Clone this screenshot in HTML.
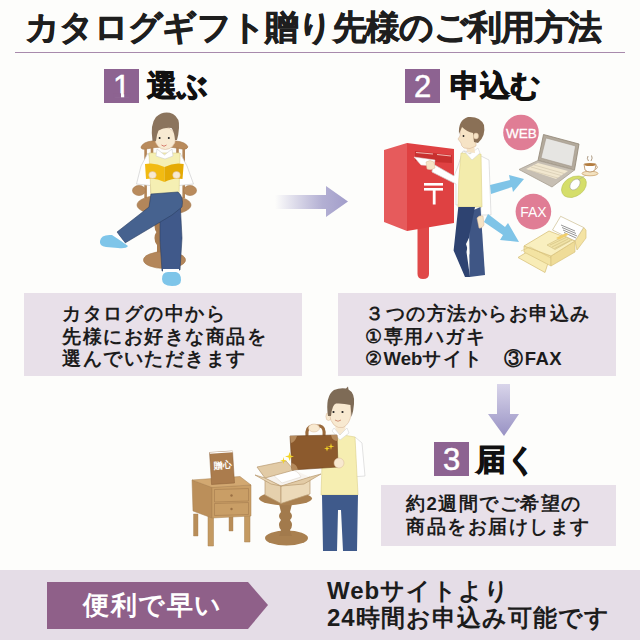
<!DOCTYPE html>
<html><head><meta charset="utf-8">
<style>
html,body{margin:0;padding:0;}
body{width:640px;height:640px;position:relative;overflow:hidden;background:#fdfdfb;font-family:"Liberation Sans",sans-serif;color:#1a1a1a;}
.a{position:absolute;}
.title{left:25px;top:8px;font-family:"Liberation Serif",serif;font-weight:bold;font-size:34px;line-height:40px;white-space:nowrap;color:#1e1e1e;letter-spacing:-0.7px;-webkit-text-stroke:0.7px #1e1e1e;}
.rule{left:15px;top:52px;width:610px;height:1px;background:#a88aac;}
.num{background:#8d6391;color:#fff;font-size:31px;line-height:35px;text-align:center;width:35px;height:34px;-webkit-text-stroke:0.5px #fff;}
.hd{font-size:30px;font-weight:bold;line-height:34px;white-space:nowrap;color:#111;-webkit-text-stroke:1px #111;}
.box{background:#e8e0e9;}
.bt{font-size:18.5px;line-height:22.5px;font-weight:bold;white-space:nowrap;color:#1c1c1c;letter-spacing:1.5px;}
.band{left:0;top:570px;width:640px;height:70px;background:#e5dde7;}
</style></head><body>
<div class="a title">カタログギフト贈り先様のご利用方法</div>
<div class="a rule"></div>

<div class="a num" style="left:104px;top:69px;">1</div>
<div class="a hd" style="left:147px;top:69px;">選ぶ</div>
<div class="a num" style="left:405px;top:69px;">2</div>
<div class="a hd" style="left:450px;top:69px;">申込む</div>
<div class="a num" style="left:434px;top:442px;">3</div>
<div class="a hd" style="left:476px;top:443px;">届く</div>

<div class="a box" style="left:24px;top:293px;width:278px;height:83px;"></div>
<div class="a bt" style="left:62px;top:303px;">カタログの中から<br>先様にお好きな商品を<br>選んでいただきます</div>

<div class="a box" style="left:338px;top:293px;width:278px;height:83px;"></div>
<div class="a bt" style="left:365px;top:303px;">３つの方法からお申込み<br>①専用ハガキ<br>②<span style="letter-spacing:0">Web</span>サイト　③<span style="letter-spacing:0.5px">FAX</span></div>

<div class="a box" style="left:381px;top:485px;width:235px;height:61px;"></div>
<div class="a bt" style="left:406px;top:493px;">約2週間でご希望の<br>商品をお届けします</div>

<div class="a band"></div>
<svg class="a" style="left:0;top:0" width="640" height="640" viewBox="0 0 640 640">
  <defs>
    <linearGradient id="ga" x1="0" x2="1" y1="0" y2="0">
      <stop offset="0" stop-color="#a19dcb" stop-opacity="0"/>
      <stop offset="0.65" stop-color="#a6a2cc" stop-opacity="0.85"/>
      <stop offset="1" stop-color="#a29dca"/>
    </linearGradient>
    <linearGradient id="gd" x1="0" x2="0" y1="0" y2="1">
      <stop offset="0" stop-color="#d9d5ea"/>
      <stop offset="1" stop-color="#9892c4"/>
    </linearGradient>
  </defs>
  <rect x="113.5" y="93.3" width="7.5" height="4.6" fill="#8d6391"/><rect x="124.2" y="93.3" width="6.3" height="4.6" fill="#8d6391"/>
<!-- illustration 1: man reading in chair -->
<g id="ill1">
  <!-- chair back -->
  <path d="M141 147 Q143 142 152 141 Q164 139 176 141 Q186 142 188 147 Q187 150 182 149 Q164 145 146 149 Q141 150 141 147 Z" fill="#b98b5c" stroke="#a37548" stroke-width="0.6"/>
  <path d="M145.6 148 V198 M152 147 V198 M177.5 147 V198 M183.7 148 V198" stroke="#b48657" stroke-width="2.6"/>
  <!-- seat ring -->
  <ellipse cx="164" cy="205" rx="27" ry="10" fill="#b3865a" stroke="#a37548" stroke-width="0.6"/>
  <!-- arms -->
  <ellipse cx="139" cy="190.5" rx="6.5" ry="5" fill="#b98b5c" stroke="#a37548" stroke-width="0.6"/>
  <ellipse cx="190" cy="190.5" rx="6.5" ry="5" fill="#b98b5c" stroke="#a37548" stroke-width="0.6"/>
  <!-- pedestal -->
  <path d="M157 214 H165 V254 H157 Z" fill="#a97c50"/>
  <path d="M158 220 Q154 226 158 232 Q154 238 158 244 M164 220 Q168 226 164 232 Q168 238 164 244" stroke="#a97c50" stroke-width="3" fill="none"/>
  <ellipse cx="164.5" cy="260" rx="21" ry="8.5" fill="#b3865a" stroke="#a37548" stroke-width="0.6"/>
  <!-- sleeves -->
  <path d="M148 153 L141 166 L136.5 184 L150 185.5 L156 177 L152 162 Z" fill="#fff" stroke="#cfcfcf" stroke-width="0.7"/>
  <path d="M180 153 L187 166 L193.5 184 L179 185.5 L173 177 L177 162 Z" fill="#fff" stroke="#cfcfcf" stroke-width="0.7"/>
  <!-- vest -->
  <path d="M149 153 L180 153 L179 196 L151 196 Z" fill="#f5efb3" stroke="#dcd08a" stroke-width="0.6"/>
  <!-- collar -->
  <path d="M157 149 L164.5 155 L172 149 L173 156 L165 159 L156 156 Z" fill="#fff" stroke="#cfcfcf" stroke-width="0.6"/>
  <!-- face -->
  <ellipse cx="165.3" cy="138.5" rx="10.3" ry="11" fill="#f8ead2" stroke="#d9b99a" stroke-width="0.6"/>
  <!-- hair -->
  <path d="M152.5 141 Q150 124 156 117 Q164 110 173 114 Q180 118 179 128 Q178.5 135 177 140 L175 140 Q174.5 132 171.5 128 Q164 127 158.5 130.5 Q156.5 135 156 141 Z" fill="#8b745d"/>
  <circle cx="159.6" cy="138" r="1" fill="#222"/>
  <circle cx="168.8" cy="138" r="1" fill="#222"/>
  <path d="M161.5 145 Q164 147.5 166.5 145" stroke="#d77b6c" stroke-width="1" fill="none"/>
  <!-- book -->
  <path d="M145 164 Q155 162 164.5 167 L164.5 182 Q155 177 146 179 Z" fill="#f2bb12"/>
  <path d="M164.5 167 Q174 162 183.7 164 L182.5 179 Q174 177 164.5 182 Z" fill="#e5aa04"/>
  <ellipse cx="152.5" cy="175" rx="3.8" ry="3.5" fill="#f8ead2" stroke="#d9b99a" stroke-width="0.5"/>
  <ellipse cx="176.5" cy="175" rx="3.8" ry="3.5" fill="#f8ead2" stroke="#d9b99a" stroke-width="0.5"/>
  <!-- pants: standing leg -->
  <path d="M160 206 L180 200 L182 238 L180 270 L162 271 L160 240 Z" fill="#40598a" stroke="#2c3f63" stroke-width="0.6"/>
  <!-- crossing leg / lap -->
  <path d="M151 194 L178 192 Q184 197 182 207 L172 215 L125 243 L117 232 L149 207 Z" fill="#46628f" stroke="#2c3f63" stroke-width="0.6"/>
  <!-- socks -->
  <path d="M116 232 L125 243 L119 246 L111 238 Z" fill="#fff"/>
  <rect x="163" y="269" width="16" height="5" fill="#fff"/>
  <!-- slippers -->
  <path d="M100 241 Q101 234 112 235 L121 241 L128 246 Q126 249 118 248 L106 247 Q99 246 100 241 Z" fill="#7ec5e9"/>
  <path d="M162 279 Q162 272 168 272 L176 272 Q181 273 181 280 Q181 286 172 286 Q162 286 162 279 Z" fill="#7ec5e9"/>
</g>
<!-- illustration 2: mailbox, man, laptop, fax -->
<g id="ill2">
  <!-- post -->
  <path d="M417.5 226 H429 V274 Q429 279 423 279 Q417.5 279 417.5 274 Z" fill="#e04848"/>
  <!-- mailbox -->
  <path d="M384 150 L407 143 L407 231 L384 222 Z" fill="#e65b5c"/>
  <path d="M407 143 L454 149 L454 223 L407 231 Z" fill="#df4142"/>
  <path d="M415 151 L452 155 L452 163 L415 161 Z" fill="#c8302f"/>
  <path d="M416 152.5 L433 154 M437 154.5 L451 156" stroke="#f0b5b0" stroke-width="1.2"/>
  <!-- 〒 -->
  <rect x="424" y="183" width="19" height="2.6" fill="#fff"/>
  <rect x="424" y="188" width="19" height="2.6" fill="#fff"/>
  <rect x="432.8" y="190" width="2.8" height="14.5" fill="#fff"/>
  <!-- letter -->
  <path d="M414 157 L435 160 L434 166 L421 165 Z" fill="#fff" stroke="#ddd" stroke-width="0.5"/>
  <!-- sleeve arm -->
  <path d="M433 164 L454 176 L458 166 L463 151 L471 152 L463 205 L456 205 L456 184 L432 172 Z" fill="#fff" stroke="#d0d0d0" stroke-width="0.7"/>
  <path d="M426 162 Q430 159 434 162 L435 168 Q431 171 427 169 Z" fill="#f6e3c5" stroke="#d9b99a" stroke-width="0.5"/>
  <!-- man 2 -->
  <path d="M479 155 L489 160 L491 215 L481 215 Z" fill="#fff" stroke="#d5d5d5" stroke-width="0.7"/>
  <path d="M461 153 L481 154 L482 207 L458 207 Q458 180 461 153 Z" fill="#f3ecac" stroke="#dcd08a" stroke-width="0.6"/>
  <path d="M464 151 L472 160 L480 153 L478 148 L470 154 Z" fill="#fff" stroke="#d5d5d5" stroke-width="0.6"/>
  <path d="M466 143 L474 143 L475 153 L467 152 Z" fill="#f6e3c5"/>
  <!-- face profile -->
  <path d="M461 126 Q471 124 476 132 L476 146 Q470 150 464 148 Q461 146 461 143 L458 139 L460 136 Z" fill="#f6e3c5" stroke="#d9b99a" stroke-width="0.6"/>
  <path d="M459 134 Q458 120 468 117 Q480 116 484 125 Q486 136 478 143 L474 142 L473 133 Q467 132 462 127 Z" fill="#8a7056"/>
  <ellipse cx="476" cy="136" rx="2.5" ry="3" fill="#f6e3c5" stroke="#d9b99a" stroke-width="0.5"/>
  <circle cx="463.5" cy="136" r="0.9" fill="#222"/>
  <!-- pants -->
  <path d="M469 212 L480.5 207 L485 275 L469.5 277 Z" fill="#3f5685"/>
  <path d="M458.3 207 L475 207 L470 232 L466.5 252 L470 277 L465 277 L453.6 250.5 Z" fill="#2e4371"/>
  <path d="M466 244 L469 238 L469.5 255 Z" fill="#fdfdfb"/>
  <path d="M477 218 Q479 215 483 216 L484 225 Q482 229 479 228 Z" fill="#f6e3c5" stroke="#d9b99a" stroke-width="0.5"/>
  <!-- blue arrows -->
  <path d="M490 185 L510 180 L509 175 L524 179 L513 192 L512 187 L491 194 Z" fill="#7fc4e7"/>
  <path d="M488 214 L505 227 L508 223 L519 242 L500 240 L503 235 L484 222 Z" fill="#7fc4e7"/>
  <!-- pink circles -->
  <circle cx="521" cy="132.5" r="17.8" fill="#e07d95"/>
  <circle cx="533.4" cy="211.6" r="17.8" fill="#e07d95"/>
  <text x="521.5" y="138" font-family="Liberation Sans, sans-serif" font-size="13.5" fill="#fff" text-anchor="middle" stroke="#fff" stroke-width="0.3">WEB</text>
  <text x="533.4" y="217" font-family="Liberation Sans, sans-serif" font-size="14" fill="#fff" text-anchor="middle">FAX</text>
  <!-- laptop -->
  <path d="M543.5 134.5 L579 144 L574.5 170 L538 160.5 Z" fill="#b3aa9c" stroke="#8f8474" stroke-width="0.8"/>
  <path d="M546 138 L575.5 146 L572 166.5 L541 158 Z" fill="#e6e5e2" stroke="#9a8f80" stroke-width="0.5"/>
  <path d="M538 160.5 L574.5 170 L552 187 L519 169.5 Z" fill="#c7bfb3" stroke="#a79e90" stroke-width="0.8"/>
  <path d="M538 163 L568 171 L556 179 L526 169 Z" fill="#f1e7cf"/>
  <path d="M531 167 L561 175.5 M534 165 L564 173.5 M529 170 L558 178" stroke="#c9bda3" stroke-width="0.5"/>
  <!-- mouse pad -->
  <path d="M579 176 Q588 177 586 186 Q583 195 572 197.5 Q562 198 561.5 190 Q562 183 568 179 Q573 175.5 579 176 Z" fill="#d5de6a" stroke="#b6bf4f" stroke-width="0.6"/>
  <ellipse cx="575" cy="184.5" rx="4.2" ry="6.2" transform="rotate(40 575 184.5)" fill="#fff" stroke="#a8a898" stroke-width="0.6"/>
  <path d="M578 180 Q584 176 588 174" stroke="#a8a898" stroke-width="0.6" fill="none"/>
  <!-- cup -->
  <ellipse cx="590" cy="173.5" rx="8" ry="2.3" fill="#f3e2c0" stroke="#c59a5f" stroke-width="0.7"/>
  <path d="M584 164 L596 164 L595 170 Q590 174 585 170 Z" fill="#fff" stroke="#a97b47" stroke-width="0.7"/>
  <path d="M596 165.5 Q599 167 595.5 169.5" stroke="#a97b47" stroke-width="0.7" fill="none"/>
  <ellipse cx="590" cy="164.6" rx="5.4" ry="1.5" fill="#b47d3f"/>
  <path d="M588 156 Q586.5 158.5 588.5 161 M591.5 155.5 Q593 158 591 161" stroke="#8c7050" stroke-width="0.7" fill="none"/>
  <!-- fax machine -->
  <path d="M518 257.5 L527 252 L548 263 L545 272.5 Z" fill="#f8ecb6" stroke="#d9c37e" stroke-width="0.8"/>
  <path d="M575 241 L583.7 227.5 L586 230 L586 238 L577 250 Z" fill="#f4e3a3" stroke="#d9c37e" stroke-width="0.7"/>
  <path d="M552.5 230 L560.6 216.3 L583.7 227.5 L575 241 Z" fill="#fff" stroke="#cdbf91" stroke-width="0.7"/>
  <path d="M561 225 L575 231 M562 227.5 L576 233.5 M563 230 L577 236 M564 232.5 L576 238" stroke="#8a8a8a" stroke-width="0.9"/>
  <path d="M524 252 L524 246 L551 256 L551 266 Z" fill="#f3e3a2" stroke="#d9c37e" stroke-width="0.7"/>
  <path d="M551 256 L575 241 L575 252 L551 266 Z" fill="#efdc98" stroke="#d9c37e" stroke-width="0.7"/>
  <path d="M524 246 L549 231 L575 241 L551 256 Z" fill="#f9efbf" stroke="#d9c37e" stroke-width="0.8"/>
  <path d="M547 245 L564 236 L572 240 L555 249.5 Z" fill="#f0e2a6" stroke="#c9b678" stroke-width="0.5"/>
  <path d="M550 245 L566 237.5 M552 247 L568 239 M554.5 248.5 L570 240.5" stroke="#c9b678" stroke-width="0.5"/>
  <path d="M556 238 L566 233 L569 234.5 L559 239.5 Z" fill="#f1cf6e"/>
  <path d="M521 251 L530 247 L551 258" fill="none" stroke="#d9c37e" stroke-width="0.6"/>
</g>
<!-- illustration 3: nightstand, box, man with suitcase -->
<g id="ill3">
  <!-- nightstand legs -->
  <path d="M193.5 514 H198 V536 H193.5 Z M229 514 H233 V531 H229 Z" fill="#b88d58" stroke="#a98050" stroke-width="0.4"/>
  <path d="M208 514 H213.5 V546 H208 Z M244.5 514 H250 V542 H244.5 Z" fill="#c49a62" stroke="#a98050" stroke-width="0.5"/>
  <!-- body -->
  <path d="M192 480 L212 487 L212 518 L193 511 Z" fill="#bb8f5a" stroke="#a98050" stroke-width="0.5"/>
  <path d="M212 487 L251 485 L251 516 L212 518 Z" fill="#c99e66" stroke="#a98050" stroke-width="0.5"/>
  <path d="M192 480 L240 476.5 L251 485 L212 487.5 Z" fill="#d2a871" stroke="#a98050" stroke-width="0.5"/>
  <path d="M214.5 489.5 L248.5 488.5 L248.5 501 L214.5 502 Z M214.5 503.5 L248.5 502.5 L248.5 514.5 L214.5 515.5 Z" fill="none" stroke="#a98050" stroke-width="0.7"/>
  <circle cx="231.5" cy="495.5" r="1.2" fill="#9a7044"/>
  <circle cx="231.5" cy="509" r="1.2" fill="#9a7044"/>
  <!-- catalog -->
  <path d="M209.5 452.5 L232.5 451 L234.5 483 L211.5 484.5 Z" fill="#ab7c4d" stroke="#8a5f36" stroke-width="0.5"/>
  <path d="M209.5 452.5 L232.5 451 L233 452.3 L210 453.8 Z" fill="#fff"/>
  <text x="222.5" y="468" font-family="Liberation Sans, sans-serif" font-size="9" font-weight="bold" fill="#fff" text-anchor="middle" transform="rotate(-4 222 466)">贈心</text>
  <!-- pedestal table -->
  <ellipse cx="286.5" cy="538" rx="21.5" ry="7.5" fill="#a98050"/>
  <path d="M279 504 H292 L290 512 Q294 516 290 520 Q294 525 290 530 L292 536 H279 L281 530 Q277 525 281 520 Q277 516 281 512 Z" fill="#a27a4c"/>
  <ellipse cx="285.5" cy="498.5" rx="26.5" ry="6.8" fill="#a98050"/>
  <!-- cardboard box -->
  <path d="M265 478 L281 486 L281 503.5 L265 495 Z" fill="#e5d0ad" stroke="#b89a70" stroke-width="0.7"/>
  <path d="M281 486 L310 477 L310 494 L281 503.5 Z" fill="#ecdab9" stroke="#b89a70" stroke-width="0.7"/>
  <path d="M265 478 L294 470 L310 477 L281 486 Z" fill="#f7f3ee"/>
  <path d="M270 472 Q280 466 288 469 Q298 470 301 477 L282 483 Z" fill="#fff" stroke="#d8d0c4" stroke-width="0.5"/>
  <path d="M265 478 L257 467 L286 461 L294 470 Z" fill="#e2cba6" stroke="#b89a70" stroke-width="0.7"/>
  <path d="M265 478 L255 475 L271 484 L281 486 Z" fill="#e8d4b3" stroke="#b89a70" stroke-width="0.7"/>
  <path d="M310 477 L321 474 L304 484 L281 486 Z" fill="#e2cba6" stroke="#b89a70" stroke-width="0.7"/>
  <!-- man 3: sleeve left arm behind -->
  <path d="M355 437 L362 443 L365 476 L351 477 L349 450 Z" fill="#fff" stroke="#d5d5d5" stroke-width="0.7"/>
  <!-- vest -->
  <path d="M337 434 L355 437 L358 495 L321 495 L322 465 L330 445 Z" fill="#f6eeb1" stroke="#dcd08a" stroke-width="0.6"/>
  <!-- neck -->
  <path d="M335 424 L345 424 L346 434 L336 434 Z" fill="#f8e9d0"/>
  <!-- collar -->
  <path d="M332 431 L340 440 L349 433 L347 428 L340 435 L334 428 Z" fill="#fff" stroke="#d5d5d5" stroke-width="0.6"/>
  <!-- ear -->
  <ellipse cx="328.5" cy="416.5" rx="2.6" ry="4" fill="#f8e9d0" stroke="#d9b99a" stroke-width="0.5"/>
  <!-- face -->
  <path d="M330 404 Q340 399 351 404 L351 414 Q350 424 343 427.5 Q338 428.5 334 425 Q330 421 329.5 414 Z" fill="#f8e9d0" stroke="#d9b99a" stroke-width="0.6"/>
  <path d="M328 416 Q325 396 334 390 Q340 387.5 346 388.5 L348 386.5 L348.5 389.5 Q355 393 354 404 Q353.5 411 351.5 417 L350.5 405 Q343 403 336 403.5 Q332 405 331 416 Z" fill="#7e6b56"/>
  <circle cx="333.5" cy="412" r="1.1" fill="#222"/>
  <circle cx="342.5" cy="412" r="1.1" fill="#222"/>
  <path d="M335 420 Q338 422.5 341 420" stroke="#c57a60" stroke-width="0.8" fill="none"/>
  <!-- pants -->
  <path d="M322 495 L358 495 L357 551 L343 551 L341 510 L338 510 L337 551 L323 551 Z" fill="#3f5a8b"/>
  <!-- suitcase handle -->
  <path d="M307 436 Q306 427 312 426 L320 426 Q325 427 324 436" fill="none" stroke="#9a6a3c" stroke-width="3"/>
  <ellipse cx="314" cy="428" rx="5.5" ry="4" fill="#f8e9d0" stroke="#d9b99a" stroke-width="0.5"/>
  <!-- suitcase -->
  <path d="M290 436 L337 435 L338 467 L292 470 Z" fill="#8c5a2d" stroke="#6e4420" stroke-width="0.6"/>
  <path d="M290 436 L297 436 Q295 442 291 443 Z M337 435 L338 441 Q332 441 331 435 Z M292 470 L291 463 Q297 464 298 470 Z" fill="#b58a5c"/>
  <!-- hand front -->
  <ellipse cx="339" cy="463" rx="5" ry="5" fill="#f8e9d0" stroke="#d9b99a" stroke-width="0.5"/>
  <!-- sparkles -->
  <path d="M289.6 452 L290.6 455.6 L294 456.6 L290.6 457.6 L289.6 461 L288.6 457.6 L285 456.6 L288.6 455.6 Z" fill="#f3d426"/>
  <path d="M283.5 457 L284.2 459.9 L287 460.6 L284.2 461.3 L283.5 464 L282.8 461.3 L280 460.6 L282.8 459.9 Z" fill="#f3d426"/>
  <path d="M331 443 L331.7 445.7 L334.5 446.4 L331.7 447.1 L331 450 L330.3 447.1 L327.5 446.4 L330.3 445.7 Z" fill="#f3d426"/>
  <path d="M327 445.5 L327.7 448 L330 448.6 L327.7 449.2 L327 451.6 L326.3 449.2 L324 448.6 L326.3 448 Z" fill="#f3d426"/>
</g>
  <path d="M275 195 H326 V186 L348 201.5 L326 217 V209 H275 Z" fill="url(#ga)"/>
  <path d="M497 384 H510 V414 H519 L504 436 L488 414 H497 Z" fill="url(#gd)"/>
  <path d="M47 582 H248 L268 605 L248 629 H47 Z" fill="#8f6089"/>
</svg>
<div class="a" style="left:83px;top:588px;font-size:26px;line-height:34px;color:#fff;font-weight:bold;white-space:nowrap;letter-spacing:1.5px;">便利で早い</div>
<div class="a" style="left:327px;top:577px;font-size:24px;line-height:27px;font-weight:bold;white-space:nowrap;color:#1c1c1c;letter-spacing:1px;">Webサイトより<br>24時間お申込み可能です</div>
</body></html>
